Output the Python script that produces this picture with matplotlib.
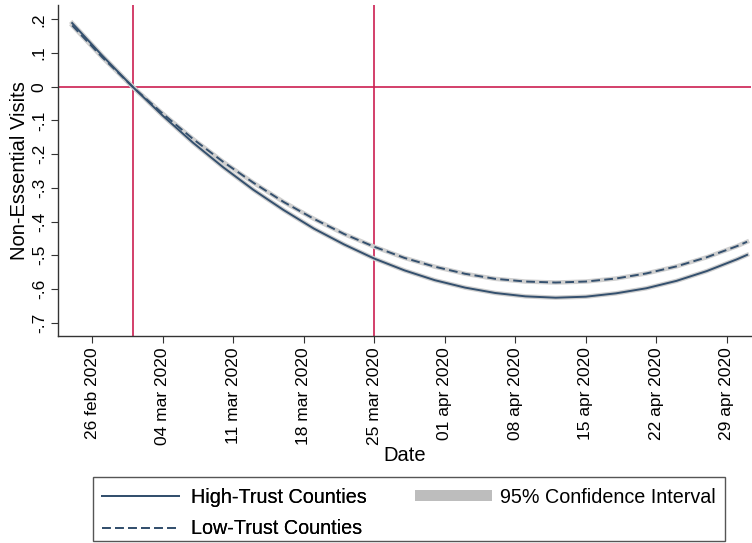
import numpy as np
import pandas as pd
import matplotlib
matplotlib.use('Agg')
import matplotlib.pyplot as plt
from matplotlib.lines import Line2D
from matplotlib.patches import Patch, Rectangle

plt.rcParams['font.family'] = ['Liberation Sans', 'DejaVu Sans']

# fitted values (every 3 days from 24 feb, last point 01 may)
fechas = list(pd.date_range('2020-02-24', periods=23, freq='3D')) + [pd.Timestamp('2020-05-01')]
alta = [0.189, 0.092, 0.0, -0.086, -0.166, -0.239, -0.306, -0.366, -0.421, -0.468,
        -0.510, -0.545, -0.574, -0.596, -0.612, -0.622, -0.626, -0.623, -0.613,
        -0.598, -0.576, -0.547, -0.512, -0.499]
baja = [0.182, 0.087, 0.0, -0.080, -0.155, -0.223, -0.285, -0.342, -0.392, -0.437,
        -0.475, -0.508, -0.534, -0.555, -0.570, -0.578, -0.581, -0.578, -0.569,
        -0.554, -0.533, -0.506, -0.473, -0.460]

yticks = [0.2, 0.1, 0, -0.1, -0.2, -0.3, -0.4, -0.5, -0.6, -0.7]
ylabels = ['.2', '.1', '0', '-.1', '-.2', '-.3', '-.4', '-.5', '-.6', '-.7']
xticks = pd.date_range('2020-02-26', '2020-04-29', freq='7D')
lineas_v = [pd.Timestamp('2020-03-01'), pd.Timestamp('2020-03-25')]

azul = '#34506e'
rojo = '#cc1f52'
guion = (0, (4.5, 2.2))

ventana = plt.figure(figsize=(7.52, 5.43), dpi=100)
plano = ventana.add_axes([0.077, 0.381, 0.922, 0.61])

plano.axhline(0, color=rojo, lw=1.2, zorder=1)
for d in lineas_v:
    plano.axvline(d, color=rojo, lw=1.2, zorder=1)

plano.plot(fechas, alta, color='#cfcfcf', lw=3.2, zorder=2)
plano.plot(fechas, baja, color='#cfcfcf', lw=3.2, zorder=2)
plano.plot(fechas, alta, color=azul, lw=1.4, zorder=3)
plano.plot(fechas, baja, color=azul, lw=1.4, ls=guion, zorder=3)

plano.set_xlim(pd.Timestamp('2020-02-22 14:00'), pd.Timestamp('2020-05-01 10:00'))
plano.set_ylim(-0.74, 0.243)

plano.set_yticks(yticks)
plano.set_yticklabels(ylabels, rotation=90, va='center')
plano.set_xticks(xticks)
plano.set_xticklabels([d.strftime('%d %b %Y').lower() for d in xticks], rotation=90)

plano.spines['top'].set_visible(False)
plano.spines['right'].set_visible(False)
for s in ['left', 'bottom']:
    plano.spines[s].set_color('#333333')
    plano.spines[s].set_linewidth(1.0)
plano.tick_params(axis='both', labelsize=12.5, length=5, color='#333333', pad=3)

plano.set_xlabel('Date', fontsize=14.5, labelpad=1)
plano.set_ylabel('Non-Essential Visits', fontsize=14.5, labelpad=2)

# caja de la leyenda
ventana.add_artist(Rectangle((0.1237, 0.0037), 0.8404, 0.1179, transform=ventana.transFigure,
                             facecolor='white', edgecolor='#555555', lw=1.0))

ley1 = ventana.legend([Line2D([], [], color=azul, lw=1.4),
                       Line2D([], [], color=azul, lw=1.4, ls=guion)],
                      ['High-Trust Counties', 'Low-Trust Counties'],
                      loc='center left', bbox_to_anchor=(0.1356, 0.0552),
                      frameon=False, fontsize=14.2, handlelength=3.9, handletextpad=0.6,
                      borderpad=0, borderaxespad=0, labelspacing=0.65)
ley2 = ventana.legend([Patch(facecolor='#bdbdbd', edgecolor='none')],
                      ['95% Confidence Interval'],
                      loc='center left', bbox_to_anchor=(0.552, 0.0847),
                      frameon=False, fontsize=14.2, handlelength=3.9, handleheight=0.55,
                      handletextpad=0.4, borderpad=0, borderaxespad=0)
ventana.add_artist(ley1)

ventana.savefig('out.png', dpi=100)
